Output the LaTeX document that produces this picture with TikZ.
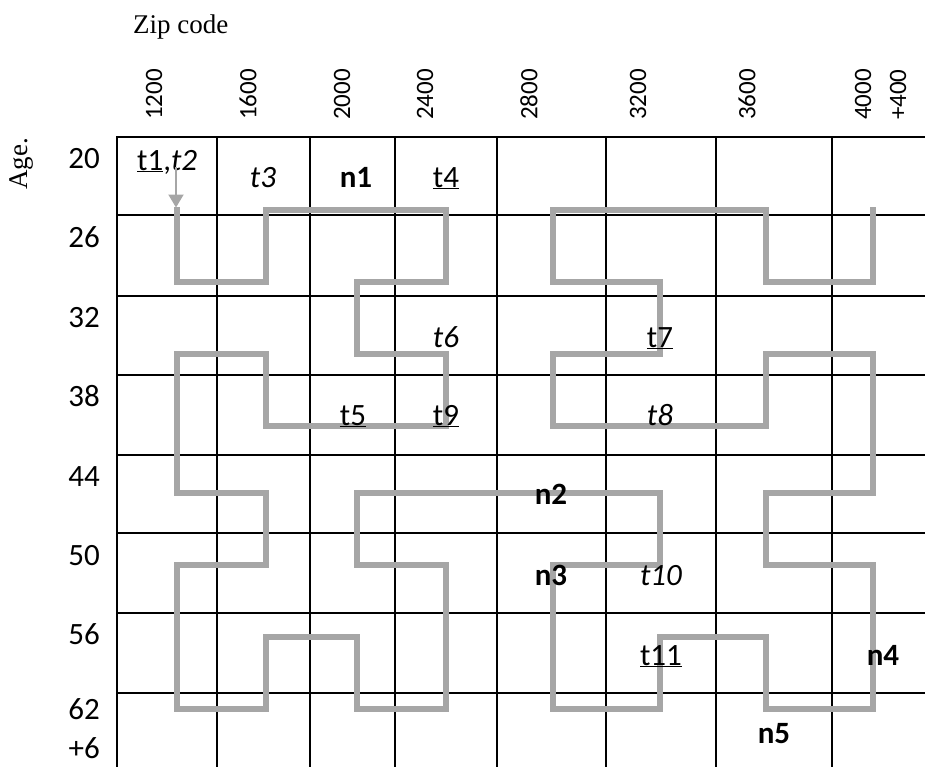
\documentclass[tikz,border=0pt]{standalone}
\usepackage{fontspec}
\newfontfamily\carl{Carlito}
\newfontfamily\serifaxis{Liberation Serif}
\usetikzlibrary{arrows.meta}
\definecolor{hgray}{RGB}{166,166,166}
\begin{document}
\begin{tikzpicture}[x=1pt,y=-1pt,
  gridline/.style={line width=2pt,black,line cap=rect},
  hilb/.style={line width=5.5pt,hgray,line cap=rect,line join=miter},
  startarrow/.style={line width=2pt,hgray,-{Triangle[width=15pt,length=13pt]}},
  cell/.style={font=\carl\fontsize{31}{36}\selectfont,inner sep=0pt,anchor=base},
  rowlab/.style={font=\carl\fontsize{31}{36}\selectfont,inner sep=0pt,anchor=base east},
  collab/.style={font=\carl\fontsize{25}{30}\selectfont,inner sep=0pt,rotate=90,anchor=west},
  axlab/.style={font=\serifaxis\fontsize{27}{30}\selectfont,inner sep=0pt}]
\useasboundingbox (0,0) rectangle (925,766);

% grid
\foreach \yy in {137,215,296,375,455,533,613,693}
  \draw[gridline] (117,\yy) -- (925,\yy);
\foreach \xx in {117,217,310,395,497,606,716,832}
  \draw[gridline] (\xx,137) -- (\xx,766);

% axis titles
\node[axlab,anchor=base west] (zip) at (133,33) {Zip code};
\node[axlab,rotate=90,anchor=west] (age) at (21.5,190) {Age.};

% column labels
\node[collab] (c1200) at (154,120) {1200};
\node[collab] (c1600) at (248,120) {1600};
\node[collab] (c2000) at (342,120) {2000};
\node[collab] (c2400) at (425,120) {2400};
\node[collab] (c2800) at (529,120) {2800};
\node[collab] (c3200) at (638,120) {3200};
\node[collab] (c3600) at (747,120) {3600};
\node[collab] (c4000) at (863,120) {4000};
\node[collab] (c4400) at (898,120) {+400};

% row labels
\node[rowlab] (r20) at (100,168) {20};
\node[rowlab] (r26) at (100,247) {26};
\node[rowlab] (r32) at (100,327) {32};
\node[rowlab] (r38) at (100,406) {38};
\node[rowlab] (r44) at (100,486) {44};
\node[rowlab] (r50) at (100,565) {50};
\node[rowlab] (r56) at (100,644) {56};
\node[rowlab] (r62) at (100,719) {62};
\node[rowlab] (r6) at (100,758) {+6};

% Hilbert curve
\draw[hilb] (177,210) -- (177,282) -- (266,282) -- (266,210) -- (446,210)
  -- (446,282) -- (357,282) -- (357,354) -- (446,354) -- (446,426)
  -- (266,426) -- (266,354) -- (177,354) -- (177,493) -- (266,493)
  -- (266,565) -- (177,565) -- (177,709) -- (266,709) -- (266,637)
  -- (357,637) -- (357,709) -- (446,709) -- (446,565) -- (357,565)
  -- (357,493) -- (660,493) -- (660,565) -- (553,565) -- (553,709)
  -- (660,709) -- (660,637) -- (766,637) -- (766,709) -- (873,709)
  -- (873,565) -- (766,565) -- (766,493) -- (873,493) -- (873,354)
  -- (766,354) -- (766,426) -- (553,426) -- (553,354) -- (660,354)
  -- (660,282) -- (553,282) -- (553,210) -- (766,210) -- (766,282)
  -- (873,282) -- (873,210);

% cell labels
\node[cell,anchor=base west] (t12) at (137,170) {\underline{t1},\textit{t2}};
\coordinate (arrfrom) at (176,167);
\coordinate (arrto) at (176,207.5);
\draw[startarrow] (arrfrom) -- (arrto);
\node[cell] (t3) at (263,187) {\textit{t3}};
\node[cell] (n1) at (356,187) {\textbf{n1}};
\node[cell] (t4) at (446,187) {\underline{t4}};
\node[cell] (t6) at (446,347) {\textit{t6}};
\node[cell] (t7) at (660,347) {\underline{t7}};
\node[cell] (t5) at (353,425) {\underline{t5}};
\node[cell] (t9) at (446,425) {\underline{t9}};
\node[cell] (t8) at (660,425) {\textit{t8}};
\node[cell] (n2) at (551,504) {\textbf{n2}};
\node[cell] (n3) at (551,585) {\textbf{n3}};
\node[cell] (t10) at (661,585) {\textit{t10}};
\node[cell] (t11) at (661,665) {\underline{t11}};
\node[cell] (n4) at (883,665) {\textbf{n4}};
\node[cell] (n5) at (774,743) {\textbf{n5}};
\end{tikzpicture}
\end{document}
